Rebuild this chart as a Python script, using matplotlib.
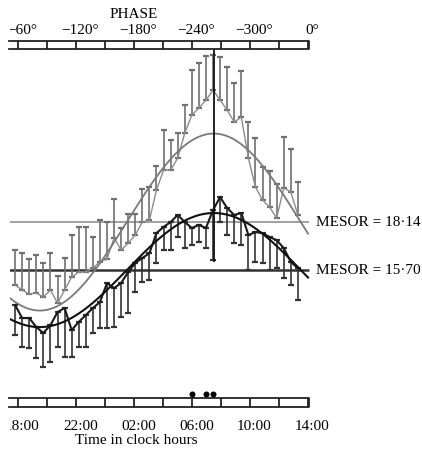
import numpy as np
import matplotlib
matplotlib.use("Agg")
import matplotlib.pyplot as plt

plt.rcParams['font.family'] = ['Liberation Serif', 'DejaVu Serif']

# sampling times, hours after 18:00
sample_hours = np.linspace(-0.2, 19.3, 41)

grey_mean = [14.94, 14.68, 14.48, 14.53, 14.33, 14.68, 14.02, 14.68, 15.34, 15.60,
             15.60, 15.80, 16.11, 16.26, 17.33, 16.72, 17.07, 17.48, 18.14, 18.24,
             19.77, 20.78, 20.78, 21.39, 22.66, 23.58, 23.94, 24.34, 24.85, 24.34,
             23.83, 23.22, 23.48, 21.39, 19.92, 19.26, 18.90, 18.34, 19.87, 19.67,
             18.50]
grey_err = [1.78, 1.88, 1.78, 1.93, 1.73, 1.88, 1.37, 1.63, 2.14, 2.29,
            2.29, 1.58, 2.13, 1.88, 1.98, 1.12, 1.48, 1.07, 1.68, 1.68,
            1.22, 2.04, 1.53, 1.27, 1.43, 2.29, 2.28, 2.24, 1.78, 2.19,
            2.19, 1.99, 2.34, 1.83, 2.49, 1.68, 1.83, 1.73, 2.59, 2.18,
            1.67]

black_mean = [13.92, 13.26, 13.26, 12.80, 12.50, 12.90, 13.56, 13.77, 12.65, 13.06,
              13.41, 13.77, 14.07, 15.04, 14.78, 15.04, 15.60, 16.06, 16.31, 16.56,
              17.58, 17.89, 18.14, 18.50, 18.14, 17.84, 17.99, 17.84, 18.75, 19.41,
              18.85, 18.50, 18.60, 17.48, 17.63, 17.58, 17.38, 17.22, 16.82, 16.11,
              15.80]
black_err = [1.52, 1.47, 1.53, 1.57, 1.73, 1.88, 1.77, 2.49, 1.37, 1.27,
             1.62, 1.27, 1.32, 2.29, 1.98, 1.73, 2.09, 1.48, 1.22, 1.37,
             1.52, 1.17, 1.42, 1.12, 1.32, 0.87, 0.87, 1.02, 2.54, 1.27,
             1.37, 1.43, 1.63, 1.78, 1.52, 1.52, 1.68, 1.42, 1.53, 1.17,
             1.63]

mesor_grey, amp_grey = 18.14, 4.5
mesor_black, amp_black = 15.70, 2.9
acro_hour = 13.5

time_ticks = [0, 4, 8, 12, 16, 20]
time_labels = ['18:00', '22:00', '02:00', '06:00', '10:00', '14:00']
phase_labels = ['\u221260\u00b0', '\u2212120\u00b0', '\u2212180\u00b0',
                '\u2212240\u00b0', '\u2212300\u00b0', '0\u00b0']
star_idx = [25, 27, 28]

fig = plt.figure(figsize=(4.22, 4.51), dpi=100)
ax = fig.add_axes([10 / 422, 0, 1 - 10 / 422, 1])
ax.set_xlim(-0.552, 27.86)
ax.set_ylim(6.50, 29.43)
ax.axis('off')

x = np.asarray(sample_hours)
tr = ax.get_xaxis_transform()

# MESOR lines
ax.hlines(mesor_grey, -0.6, 20.1, color='#9a9a9a', lw=1.3)
ax.hlines(mesor_black, -0.6, 20.1, color='#333333', lw=1.8)

# grey series
ax.errorbar(x, grey_mean, yerr=[np.zeros(len(x)), grey_err], fmt='none',
            ecolor='#6f6f6f', elinewidth=1.2, capsize=2.3, capthick=1.6)
ax.plot(x, grey_mean, color='#8c8c8c', lw=1.0)
t = np.linspace(-0.6, 20.0, 300)
ax.plot(t, mesor_grey + amp_grey * np.cos(2 * np.pi * (t - acro_hour) / 24),
        color='#7a7a7a', lw=1.3)

# black series
ax.errorbar(x, black_mean, yerr=[black_err, np.zeros(len(x))], fmt='none',
            ecolor='#333333', elinewidth=1.2, capsize=2.3, capthick=1.6)
ax.plot(x, black_mean, color='#1a1a1a', lw=1.5)
ax.plot(t, mesor_black + amp_black * np.cos(2 * np.pi * (t - acro_hour) / 24),
        color='#111111', lw=1.5)

# acrophase line
ax.vlines(acro_hour, 1 - 262 / 451, 1 - 49 / 451, transform=tr, color='#111111', lw=1.3)

ax.text(20.55, mesor_grey, 'MESOR = 18\u00b714', fontsize=11, va='center', ha='left')
ax.text(20.55, mesor_black, 'MESOR = 15\u00b770', fontsize=11, va='center', ha='left')

# top (phase) and bottom (clock time) strips
for y0, y1 in [(1 - 49 / 451, 1 - 41 / 451), (1 - 407 / 451, 1 - 398 / 451)]:
    ax.plot([-0.6, 20.05, 20.05, -0.6], [y1, y1, y0, y0], transform=tr,
            color='#222222', lw=1.3, clip_on=False)
    ax.vlines(np.arange(0, 21, 2), y0, y1, transform=tr, color='#222222', lw=1.3)

for h, lab in zip(time_ticks, phase_labels):
    ax.text(h + 0.3, 1 - 30 / 451, lab, transform=tr, fontsize=11,
            ha='center', va='center', clip_on=True)
for h, lab in zip(time_ticks, time_labels):
    ax.text(h + 0.3, 1 - 426 / 451, lab, transform=tr, fontsize=11,
            ha='center', va='center', clip_on=True)

ax.text(8.0, 1 - 14 / 451, 'PHASE', transform=tr, fontsize=11, ha='center', va='center')
ax.text(8.15, 1 - 441 / 451, 'Time in clock hours', transform=tr, fontsize=11,
        ha='center', va='center')

ax.plot(x[star_idx], [1 - 394 / 451] * len(star_idx), 'o', color='black',
        ms=3.3, transform=tr)

fig.savefig('out.png', dpi=100)
